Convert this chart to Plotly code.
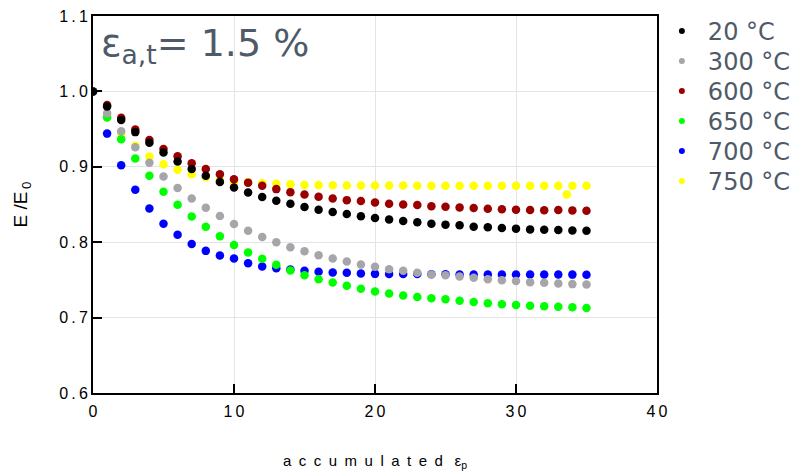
import plotly.graph_objects as go

# Accumulated plastic strain (cycles) for the common series
strain = list(range(0, 36))

# E/E0 for each test temperature
e_20 = [1.0, 0.980, 0.962, 0.946, 0.932, 0.919, 0.907, 0.897, 0.888, 0.880,
        0.8725, 0.866, 0.860, 0.855, 0.851, 0.8466, 0.843, 0.840, 0.8374, 0.8343,
        0.8322, 0.830, 0.8282, 0.8264, 0.8246, 0.8233, 0.8224, 0.8206, 0.8197, 0.8189,
        0.818, 0.817, 0.8165, 0.8162, 0.8155, 0.8153]
e_300 = [1.0, 0.971, 0.947, 0.926, 0.9055, 0.887, 0.872, 0.858, 0.8457, 0.8347,
         0.8242, 0.8153, 0.807, 0.800, 0.7933, 0.788, 0.7827, 0.7783, 0.7744, 0.7704,
         0.7674, 0.7642, 0.762, 0.7594, 0.7572, 0.7563, 0.7546, 0.7528, 0.751, 0.7497,
         0.7484, 0.747, 0.7462, 0.7453, 0.7444, 0.744]
e_600 = [1.0, 0.982, 0.965, 0.9495, 0.9355, 0.9236, 0.914, 0.9047, 0.8972, 0.8902,
         0.8836, 0.879, 0.8748, 0.8704, 0.8664, 0.8633, 0.8602, 0.858, 0.8558, 0.8545,
         0.8527, 0.851, 0.850, 0.8493, 0.8477, 0.847, 0.8461, 0.8453, 0.8444, 0.8437,
         0.843, 0.8428, 0.8425, 0.8427, 0.8422, 0.8418]
e_650 = [1.0, 0.9655, 0.9365, 0.911, 0.888, 0.867, 0.8497, 0.834, 0.8206, 0.8078,
         0.7964, 0.7865, 0.778, 0.770, 0.7625, 0.7563, 0.751, 0.7466, 0.7423, 0.7383,
         0.7347, 0.732, 0.7294, 0.7272, 0.7258, 0.7242, 0.7225, 0.7206, 0.7189, 0.7176,
         0.7167, 0.7158, 0.715, 0.7145, 0.7136, 0.7127]
e_700 = [1.0, 0.944, 0.902, 0.8695, 0.8448, 0.8246, 0.810, 0.7977, 0.7885, 0.7823,
         0.7783, 0.772, 0.7678, 0.7655, 0.7638, 0.762, 0.7607, 0.7598, 0.7594, 0.7585,
         0.758, 0.7577, 0.7577, 0.7577, 0.7575, 0.7574, 0.7573, 0.7572, 0.7572, 0.7572,
         0.7572, 0.7572, 0.7572, 0.7572, 0.757, 0.7568]

# The 750 °C run has one extra reading between 33 and 34
strain_750 = list(range(0, 34)) + [33.6, 34, 35]
e_750 = [1.0, 0.968, 0.944, 0.928, 0.9135, 0.9035, 0.896, 0.890, 0.886, 0.882,
         0.880, 0.8795, 0.8783, 0.8774, 0.877, 0.876, 0.8757, 0.8755, 0.8752, 0.8752,
         0.8752, 0.8751, 0.8751, 0.875, 0.875, 0.875, 0.875, 0.875, 0.875, 0.875,
         0.875, 0.8749, 0.8749, 0.8749, 0.8633, 0.8748, 0.8748]

labels = ["20 °C", "300 °C", "600 °C", "650 °C", "700 °C", "750 °C"]
colors = ["#000000", "#a6a6aa", "#9a0000", "#00ff00", "#0000ff", "#ffff00"]
xs = [strain, strain, strain, strain, strain, strain_750]
ys = [e_20, e_300, e_600, e_650, e_700, e_750]

x_ticks = [0, 10, 20, 30, 40]
x_ticktext = ["0", "1\u20090", "2\u20090", "3\u20090", "4\u20090"]
y_ticks = [0.6, 0.7, 0.8, 0.9, 1.0, 1.1]
y_ticktext = ["0\u2009.\u20096", "0\u2009.\u20097", "0\u2009.\u20098",
              "0\u2009.\u20099", "1\u2009.\u20090", "1\u2009.\u20091"]

fig = go.Figure()

# Data markers: highest temperature drawn first so 20 °C sits on top
for i in reversed(range(len(labels))):
    fig.add_trace(go.Scatter(
        x=xs[i], y=ys[i], mode="markers", name=labels[i], showlegend=False,
        marker=dict(color=colors[i], size=8.5, line=dict(width=0)),
        hoverinfo="x+y+name",
    ))

slate = "#4f5a68"
legend_font = dict(family="DejaVu Sans, Verdana", size=24, color=slate)

# One legend box per temperature so the rows sit 30 px apart
legend_layouts = {}
plot_top, plot_h = 16, 377.5
for i in range(len(labels)):
    key = "legend" if i == 0 else f"legend{i + 1}"
    fig.add_trace(go.Scatter(
        x=[None], y=[None], mode="markers", name=labels[i], legend=key,
        marker=dict(color=colors[i], size=6),
    ))
    row_px = 31.5 + 30 * i
    legend_layouts[key] = dict(
        x=0.998, y=1 - (row_px - plot_top) / plot_h,
        xanchor="left", yanchor="middle",
        font=legend_font, bgcolor="rgba(0,0,0,0)", itemwidth=42,
    )

tick_font = dict(family="Liberation Sans, Arial", size=16, color="#000000")

fig.update_layout(
    width=803, height=473,
    margin=dict(l=92.5, r=145.5, t=16, b=79.5, autoexpand=False),
    plot_bgcolor="white", paper_bgcolor="white",
    showlegend=True,
    xaxis=dict(
        range=[0, 40], tickvals=x_ticks, ticktext=x_ticktext,
        ticks="inside", ticklen=9, tickwidth=1.5, tickcolor="#000000",
        showline=True, linecolor="#000000", linewidth=2, mirror=True,
        showgrid=True, gridcolor="#e4e4e4", gridwidth=1, zeroline=False,
        tickfont=tick_font, ticklabelstandoff=3, automargin=False,
        title=dict(text="a\u2002c\u2002c\u2002u\u2002m\u2002u\u2002l\u2002a\u2002t\u2002e\u2002d\u2002 ε<sub>p</sub>",
                   font=dict(family="Liberation Sans, Arial", size=15, color="#000000"),
                   standoff=36),
    ),
    yaxis=dict(
        range=[0.6, 1.1], tickvals=y_ticks, ticktext=y_ticktext,
        ticks="inside", ticklen=9, tickwidth=1.5, tickcolor="#000000",
        showline=True, linecolor="#000000", linewidth=2, mirror=True,
        showgrid=True, gridcolor="#e4e4e4", gridwidth=1, zeroline=False,
        tickfont=tick_font, automargin=False,
        title=dict(text="E /E<sub>\u20090</sub>",
                   font=dict(family="Liberation Sans, Arial", size=19, color="#000000"),
                   standoff=26),
    ),
    annotations=[dict(
        xref="paper", yref="paper", x=0.011, y=0.993, xanchor="left", yanchor="top",
        text="ε<sub>a,t</sub>= 1.5 %", showarrow=False,
        font=dict(family="DejaVu Sans, Verdana", size=38, color=slate),
    )],
    **legend_layouts,
)

fig.write_html("out.html")
